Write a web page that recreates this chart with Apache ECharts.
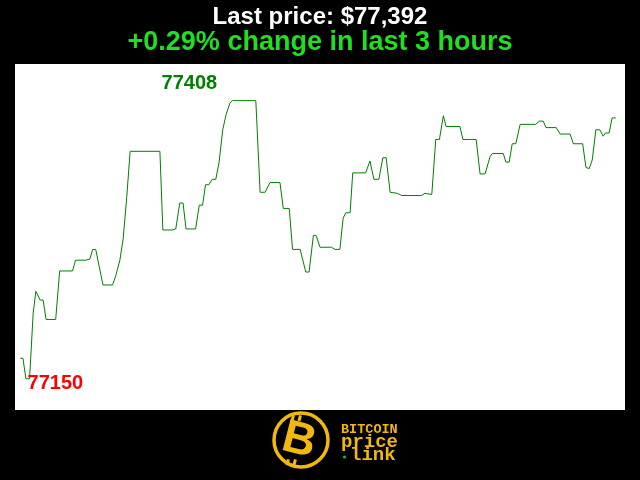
<!DOCTYPE html>
<html>
<head>
<meta charset="utf-8">
<script src="https://cdn.jsdelivr.net/npm/echarts@6/dist/echarts.min.js"></script>
<style>html,body{margin:0;padding:0;background:#000;}#c{width:640px;height:480px;}</style>
</head>
<body>
<div id="c"></div>
<script>
// minutes since start of the 3-hour window
var minutes = [0,0.8,1.7,2.8,3.9,4.7,6.0,6.9,7.8,10.7,11.9,15.8,16.7,19.8,21.0,21.9,22.8,25.0,27.9,28.9,30.1,31.1,32.2,33.2,42.2,43.1,45.9,47.0,48.2,49.2,50.1,53.0,54.1,55.1,56.0,57.0,58.0,59.1,60.1,61.2,62.2,63.4,64.1,71.2,72.5,74.0,75.5,78.5,79.5,81.3,82.3,84.6,86.3,87.3,88.6,89.4,90.6,94.1,95.1,96.6,97.6,98.4,99.7,100.5,104.4,105.7,106.9,108.4,109.6,110.6,111.8,114.0,115.3,121.3,122.3,124.4,125.6,126.7,127.9,128.7,132.9,133.8,136.0,137.8,139.0,140.5,142.0,142.7,146.0,146.8,147.8,148.7,149.8,151.1,155.8,156.9,158.1,158.9,162.0,163.2,166.2,167.2,170.0,171.0,172.0,172.9,174.0,175.2,176.2,176.9,178.0,178.9,180];
// BTC price (USD)
var prices = [77169,77169,77150,77150,77211,77231,77223,77223,77205,77205,77250,77250,77260,77260,77261,77270,77270,77237,77237,77246,77260,77280,77319,77361,77361,77288,77288,77289,77313,77313,77289,77289,77311,77311,77330,77330,77335,77335,77351,77381,77395,77406,77408,77408,77323,77323,77332,77332,77308,77308,77270,77270,77249,77249,77283,77283,77272,77272,77270,77270,77299,77304,77304,77341,77341,77352,77335,77335,77355,77355,77323,77322,77320,77320,77322,77321,77372,77372,77394,77384,77384,77372,77372,77372,77340,77340,77356,77359,77359,77351,77351,77368,77368,77386,77386,77389,77389,77383,77383,77377,77377,77368,77368,77346,77345,77353,77381,77381,77375,77378,77378,77392,77392];
var titleText = 'Last price: $77,392';
var subtitleText = '+0.29% change in last 3 hours';
var maxLabel = '77408';
var minLabel = '77150';
var maxPoint = [64.1, 77408];
var minPoint = [1.7, 77150];

var seriesData = minutes.map(function (m, i) { return [m, prices[i]]; });

var chart = echarts.init(document.getElementById('c'), null, {renderer: 'canvas'});
var gold = '#f2b90c';
chart.setOption({
  animation: false,
  backgroundColor: '#000',
  grid: {left: 15, right: 15, top: 64, bottom: 70, show: true, backgroundColor: '#fff', borderWidth: 0},
  xAxis: {type: 'value', min: -1.6, max: 182.8, show: false},
  yAxis: {type: 'value', min: 77121, max: 77442, show: false, splitLine: {show: false}},
  series: [{
    type: 'line',
    data: seriesData,
    showSymbol: false,
    lineStyle: {color: '#008000', width: 1},
    markPoint: {
      symbol: 'circle', symbolSize: 0,
      label: {show: true, position: 'inside', fontFamily: 'Liberation Sans', fontWeight: 'bold', fontSize: 20},
      data: [
        {coord: maxPoint, value: maxLabel, label: {color: '#008000', offset: [-43, -17], formatter: maxLabel}},
        {coord: minPoint, value: minLabel, label: {color: '#ff0000', offset: [29.5, 4.5], formatter: minLabel}}
      ]
    }
  }],
  graphic: [
    {type: 'text', x: 320, y: 17, style: {text: titleText, fill: '#fff', font: 'bold 24px "Liberation Sans"', align: 'center', verticalAlign: 'middle'}},
    {type: 'text', x: 320, y: 43, style: {text: subtitleText, fill: '#1fe01f', font: 'bold 27px "Liberation Sans"', align: 'center', verticalAlign: 'middle'}},
    {type: 'circle', shape: {cx: 301, cy: 440, r: 27}, style: {fill: 'none', stroke: gold, lineWidth: 3.5}},
    {type: 'text', x: 299, y: 441, rotation: -0.25, style: {text: 'B', fill: gold, font: 'bold 46px "Liberation Sans"', align: 'center', verticalAlign: 'middle'}},
    {type: 'rect', x: 292, y: 415, rotation: -0.25, shape: {x: 0, y: 0, width: 3, height: 6}, style: {fill: gold}},
    {type: 'rect', x: 299, y: 415, rotation: -0.25, shape: {x: 0, y: 0, width: 3, height: 6}, style: {fill: gold}},
    {type: 'rect', x: 287, y: 459, rotation: -0.25, shape: {x: 0, y: 0, width: 3, height: 6}, style: {fill: gold}},
    {type: 'rect', x: 294, y: 459, rotation: -0.25, shape: {x: 0, y: 0, width: 3, height: 6}, style: {fill: gold}},
    {type: 'text', x: 341, y: 430, style: {text: 'BITCOIN', fill: gold, font: 'bold 13.5px "Liberation Mono"', align: 'left', verticalAlign: 'middle'}},
    {type: 'text', x: 341, y: 442, style: {text: 'price', fill: gold, font: 'bold 19px "Liberation Mono"', align: 'left', verticalAlign: 'middle'}},
    {type: 'text', x: 350, y: 455, style: {text: 'link', fill: gold, font: 'bold 19px "Liberation Mono"', align: 'left', verticalAlign: 'middle'}},
    {type: 'circle', shape: {cx: 344.5, cy: 457, r: 1.6}, style: {fill: '#22bb22'}}
  ]
});
</script>
</body>
</html>
